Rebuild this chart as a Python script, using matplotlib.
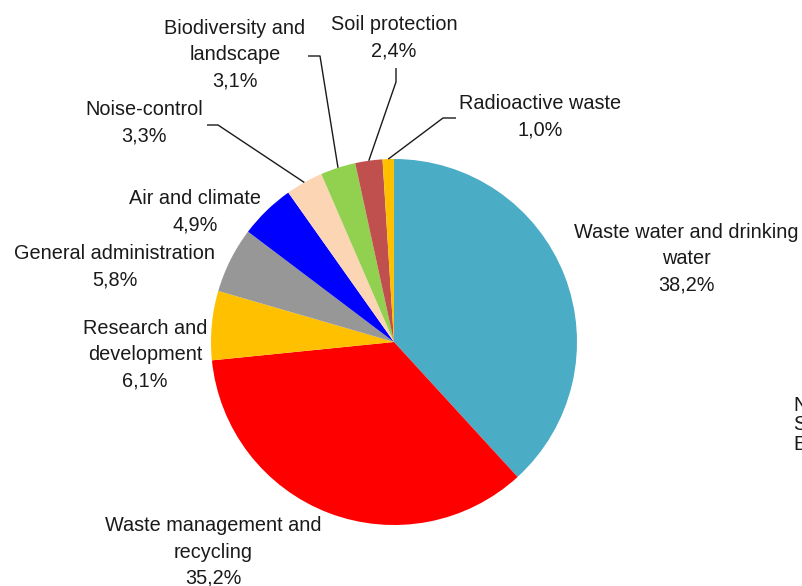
import numpy as np
import matplotlib
matplotlib.use("Agg")
import matplotlib.pyplot as plt

categories = ["Waste water and drinking\nwater", "Waste management and\nrecycling",
              "Research and\ndevelopment", "General administration", "Air and climate",
              "Noise-control", "Biodiversity and\nlandscape", "Soil protection",
              "Radioactive waste"]
values = [38.2, 35.2, 6.1, 5.8, 4.9, 3.3, 3.1, 2.4, 1.0]
value_labels = ["38,2%", "35,2%", "6,1%", "5,8%", "4,9%", "3,3%", "3,1%", "2,4%", "1,0%"]
colors = ["#4BACC6", "#FF0000", "#FFC000", "#979797", "#0000FF",
          "#FCD5B5", "#92D050", "#C0504D", "#FFC000"]

W, H = 803, 586
plt.rcParams['font.family'] = ['Liberation Sans', 'DejaVu Sans']
fig = plt.figure(figsize=(W / 100, H / 100), dpi=100)
ax = fig.add_axes([0, 0, 1, 1])

def py(y):
    return H - y

cx, cy, R = 394, py(342), 183
ax.pie(values, colors=colors, startangle=90, counterclock=False,
       center=(cx, cy), radius=R, wedgeprops=dict(linewidth=0), frame=True)
ax.set_xlim(0, W)
ax.set_ylim(0, H)
ax.set_aspect('equal')
ax.axis('off')

# label block centres (pixel coords)
label_pos = [(686, 259), (213, 552), (145, 355), (115, 267), (195, 212),
             (144, 123), (235, 55), (394, 38), (540, 117)]
fs = 14.3
for cat, vl, (lx, ly) in zip(categories, value_labels, label_pos):
    ax.text(lx, py(ly), cat + "\n" + vl, ha='center', va='center',
            multialignment='center', fontsize=fs, color='#1a1a1a',
            linespacing=1.49)

# leader lines for small slices: elbow points (pixel coords)
elbows = {5: [(207, 125), (218, 125)],
          6: [(308, 56), (320, 56)],
          7: [(396, 68), (396, 82)],
          8: [(456, 118), (443, 118)]}
cum = np.cumsum([0] + values)
tot = cum[-1]
for i, pts in elbows.items():
    mid = (cum[i] + cum[i + 1]) / 2 / tot
    ang = np.deg2rad(90 - mid * 360)
    ax_ = cx + R * np.cos(ang)
    ay_ = cy + R * np.sin(ang)
    xs = [p[0] for p in pts] + [ax_]
    ys = [py(p[1]) for p in pts] + [ay_]
    ax.plot(xs, ys, color='#1a1a1a', lw=1.0, solid_capstyle='butt')

ax.text(793, py(425), "N\nS\nE", ha='left', va='center', fontsize=14.5,
        color='#1a1a1a', linespacing=1.05)

fig.savefig("out.png", dpi=100)
